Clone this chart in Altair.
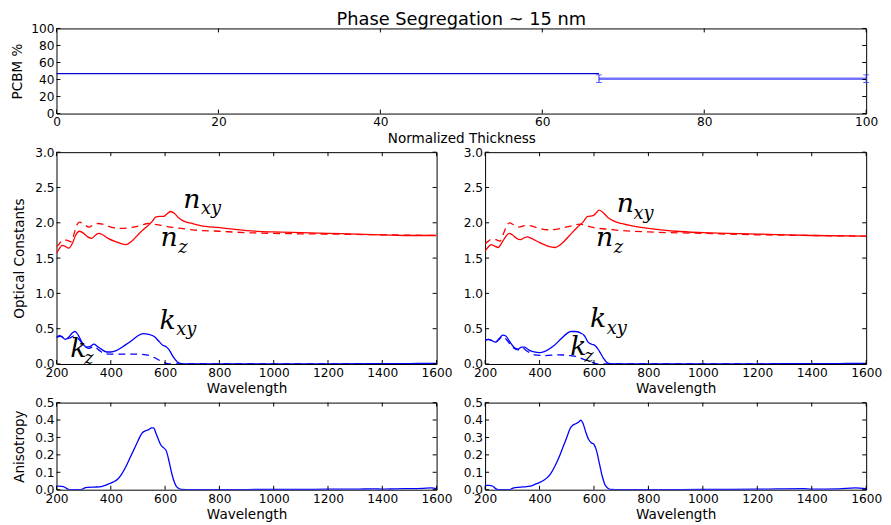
import altair as alt
import pandas as pd

TITLE = ["Phase Segregation ~ 15 nm"]

# ---------------- top panel data ----------------
SEG1_X = [0, 67]
SEG1_Y = [47, 47]
SEG2_X = [67, 100]
SEG2_Y = [41, 41]
ERR_X = [67, 100]
ERR_LO = [36.5, 36.5]
ERR_HI = [45.5, 45.5]
TOP_TICKS = [0, 20, 40, 60, 80, 100]

# ---------------- left panels ----------------
L_NXY_WL = [200, 210, 220, 230, 245, 260, 270, 285, 300, 315, 330, 345, 355, 370, 390, 420, 455, 480, 510, 540, 555, 565, 580, 595, 605, 620, 635, 650, 665, 700, 730, 800, 850, 900, 1000, 1100, 1200, 1300, 1400, 1500, 1600]
L_NXY = [1.57, 1.63, 1.68, 1.67, 1.64, 1.72, 1.82, 1.88, 1.85, 1.80, 1.78, 1.83, 1.85, 1.83, 1.78, 1.73, 1.69, 1.75, 1.87, 1.97, 2.03, 2.08, 2.09, 2.09, 2.12, 2.16, 2.13, 2.07, 2.03, 1.99, 1.96, 1.93, 1.91, 1.89, 1.87, 1.86, 1.85, 1.84, 1.83, 1.82, 1.82]
L_NZ_WL = [200, 210, 225, 240, 255, 265, 275, 285, 300, 320, 340, 355, 370, 400, 430, 470, 510, 537, 560, 590, 620, 660, 700, 800, 900, 1000, 1200, 1400, 1600]
L_NZ = [1.66, 1.70, 1.76, 1.75, 1.73, 1.85, 1.97, 2.01, 1.98, 1.94, 1.98, 1.99, 1.98, 1.94, 1.92, 1.93, 1.96, 1.99, 1.98, 1.96, 1.94, 1.92, 1.90, 1.88, 1.86, 1.85, 1.84, 1.83, 1.82]
L_KXY_WL = [200, 210, 220, 232, 245, 258, 268, 280, 295, 310, 325, 338, 350, 365, 385, 400, 420, 450, 480, 500, 520, 540, 560, 575, 590, 605, 615, 630, 645, 660, 680, 800, 1000, 1200, 1400, 1500, 1560, 1600]
L_KXY = [0.38, 0.40, 0.39, 0.35, 0.38, 0.44, 0.46, 0.41, 0.30, 0.24, 0.25, 0.28, 0.25, 0.21, 0.17, 0.17, 0.19, 0.26, 0.34, 0.40, 0.43, 0.42, 0.39, 0.33, 0.27, 0.24, 0.20, 0.10, 0.03, 0.005, 0.0, 0.0, 0.002, 0.003, 0.005, 0.006, 0.01, 0.008]
L_KZ_WL = [200, 215, 232, 250, 265, 280, 300, 320, 338, 355, 375, 400, 450, 500, 530, 555, 575, 590, 605, 620, 800, 1600]
L_KZ = [0.38, 0.39, 0.35, 0.37, 0.40, 0.36, 0.27, 0.22, 0.25, 0.20, 0.15, 0.14, 0.14, 0.14, 0.13, 0.10, 0.06, 0.03, 0.01, 0.0, 0.0, 0.0]
L_ANI_WL = [200, 210, 225, 240, 250, 290, 300, 315, 340, 365, 380, 395, 410, 425, 440, 455, 470, 485, 500, 515, 530, 540, 550, 558, 565, 575, 585, 595, 605, 615, 625, 635, 645, 660, 700, 800, 900, 1000, 1100, 1200, 1300, 1370, 1400, 1450, 1500, 1550, 1580, 1600]
L_ANI = [0.02, 0.02, 0.018, 0.005, 0.0, 0.0, 0.008, 0.013, 0.015, 0.018, 0.025, 0.035, 0.045, 0.06, 0.09, 0.13, 0.18, 0.23, 0.28, 0.325, 0.34, 0.345, 0.355, 0.355, 0.33, 0.29, 0.255, 0.24, 0.22, 0.16, 0.09, 0.04, 0.012, 0.002, 0.0, 0.0, 0.001, 0.002, 0.002, 0.003, 0.003, 0.005, 0.003, 0.005, 0.006, 0.008, 0.01, 0.006]

# ---------------- right panels ----------------
R_NXY_WL = [200, 210, 222, 235, 248, 262, 275, 288, 300, 315, 330, 345, 355, 370, 400, 430, 458, 480, 510, 540, 560, 577, 597, 608, 619, 632, 650, 670, 700, 750, 800, 900, 1000, 1200, 1400, 1600]
R_NXY = [1.60, 1.65, 1.69, 1.67, 1.65, 1.72, 1.80, 1.85, 1.83, 1.78, 1.76, 1.79, 1.80, 1.78, 1.72, 1.67, 1.65, 1.70, 1.82, 1.94, 2.01, 2.09, 2.10, 2.14, 2.18, 2.15, 2.08, 2.03, 1.99, 1.95, 1.92, 1.88, 1.86, 1.84, 1.82, 1.81]
R_NZ_WL = [200, 212, 225, 240, 255, 268, 280, 290, 305, 325, 345, 360, 400, 440, 480, 520, 550, 570, 600, 650, 700, 800, 1000, 1200, 1400, 1600]
R_NZ = [1.70, 1.74, 1.77, 1.76, 1.74, 1.85, 1.96, 2.00, 1.97, 1.94, 1.96, 1.96, 1.92, 1.90, 1.92, 1.96, 1.98, 1.96, 1.93, 1.91, 1.89, 1.87, 1.85, 1.83, 1.82, 1.81]
R_KXY_WL = [200, 212, 225, 238, 252, 265, 275, 290, 305, 320, 335, 345, 360, 380, 400, 420, 450, 480, 500, 515, 530, 550, 565, 578, 592, 605, 620, 635, 648, 660, 700, 1000, 1200, 1400, 1500, 1560, 1600]
R_KXY = [0.34, 0.35, 0.33, 0.31, 0.36, 0.41, 0.40, 0.32, 0.24, 0.21, 0.24, 0.24, 0.20, 0.17, 0.16, 0.18, 0.25, 0.36, 0.43, 0.46, 0.46, 0.44, 0.40, 0.31, 0.28, 0.26, 0.18, 0.08, 0.02, 0.004, 0.0, 0.002, 0.003, 0.004, 0.005, 0.009, 0.007]
R_KZ_WL = [200, 212, 225, 238, 252, 265, 280, 300, 320, 335, 355, 380, 420, 470, 510, 540, 560, 580, 600, 615, 800, 1600]
R_KZ = [0.33, 0.35, 0.33, 0.31, 0.35, 0.39, 0.34, 0.24, 0.20, 0.23, 0.18, 0.13, 0.12, 0.13, 0.12, 0.10, 0.07, 0.04, 0.015, 0.0, 0.0, 0.0]
R_ANI_WL = [200, 215, 228, 240, 250, 290, 300, 315, 340, 365, 385, 405, 425, 440, 455, 470, 485, 500, 512, 522, 535, 545, 552, 560, 570, 580, 590, 600, 610, 620, 630, 640, 650, 660, 700, 800, 1000, 1200, 1370, 1400, 1500, 1560, 1600]
R_ANI = [0.025, 0.025, 0.02, 0.005, 0.0, 0.0, 0.008, 0.013, 0.016, 0.02, 0.032, 0.045, 0.065, 0.09, 0.13, 0.18, 0.24, 0.30, 0.35, 0.37, 0.38, 0.39, 0.40, 0.38, 0.33, 0.29, 0.27, 0.26, 0.22, 0.15, 0.08, 0.03, 0.01, 0.002, 0.0, 0.0, 0.002, 0.003, 0.006, 0.003, 0.005, 0.01, 0.006]

# ---------------- annotation labels (main letter + subscript) ----------------
LBL_MAIN = ["n", "n", "k", "k"]
LBL_SUB = ["xy", "z", "xy", "z"]
L_MAIN_WL = [667, 583, 579, 251]
L_MAIN_V = [2.215, 1.668, 0.49, 0.098]
L_SUB_WL = [732, 648, 641, 302]
L_SUB_V = [2.13, 1.57, 0.41, 0.0]
R_MAIN_WL = [684, 607, 585, 513]
R_MAIN_V = [2.159, 1.668, 0.519, 0.126]
R_SUB_WL = [745, 673, 647, 564]
R_SUB_V = [2.06, 1.57, 0.42, 0.03]

WL_TICKS = [200, 400, 600, 800, 1000, 1200, 1400, 1600]
OC_TICKS = [0.0, 0.5, 1.0, 1.5, 2.0, 2.5, 3.0]
AN_TICKS = [0.0, 0.1, 0.2, 0.3, 0.4, 0.5]

FONT = "DejaVu Sans"
RED = "#ff0000"
BLUE = "#0000ff"


def make_axes(xticks, yticks, xfmt, yfmt, xtitle, ytitle, h, ytitle_x):
    xa = alt.Axis(values=xticks, format=xfmt, title=xtitle, titleY=18,
                  titleBaseline="top", labelFlush=False, labelOverlap=False)
    if ytitle:
        ya = alt.Axis(values=yticks, format=yfmt, title=ytitle, titleX=ytitle_x,
                      titleY=h / 2, titleBaseline="alphabetic", titleAngle=270,
                      labelFlush=False, labelOverlap=False)
    else:
        ya = alt.Axis(values=yticks, format=yfmt, title=None,
                      labelFlush=False, labelOverlap=False)
    return xa, ya


def tick_layers(xticks, yticks, xs, ys, xa, ya, w, h):
    xt = pd.DataFrame({"wl": xticks})
    yt = pd.DataFrame({"v": yticks})
    base = dict(color="black", strokeWidth=1)
    X = alt.X("wl:Q", scale=xs, axis=xa)
    Y = alt.Y("v:Q", scale=ys, axis=ya)
    return [
        alt.Chart(xt).mark_rule(**base).encode(x=X, y=alt.value(0), y2=alt.value(4)),
        alt.Chart(xt).mark_rule(**base).encode(x=X, y=alt.value(h), y2=alt.value(h - 4)),
        alt.Chart(yt).mark_rule(**base).encode(y=Y, x=alt.value(0), x2=alt.value(4)),
        alt.Chart(yt).mark_rule(**base).encode(y=Y, x=alt.value(w), x2=alt.value(w - 4)),
    ]


def wl_panel(series, labels, yticks, ydom, w, h, ytitle, yfmt):
    xs = alt.Scale(domain=[200, 1600], nice=False, zero=False)
    ys = alt.Scale(domain=ydom, nice=False, zero=False)
    xa, ya = make_axes(WL_TICKS, yticks, "d", yfmt, "Wavelength", ytitle, h, -33)
    X = alt.X("wl:Q", scale=xs, axis=xa)
    Y = alt.Y("v:Q", scale=ys, axis=ya)
    layers = []
    for wl, vals, color, dash in series:
        df = pd.DataFrame({"wl": wl, "v": vals})
        kw = dict(color=color, strokeWidth=1.3, clip=True, interpolate="monotone")
        if dash:
            kw["strokeDash"] = [7, 5]
        layers.append(alt.Chart(df).mark_line(**kw).encode(x=X, y=Y))
    if labels:
        mwl, mv, swl, sv = labels
        dm = pd.DataFrame({"wl": mwl, "v": mv, "t": LBL_MAIN})
        ds = pd.DataFrame({"wl": swl, "v": sv, "t": LBL_SUB})
        layers.append(alt.Chart(dm).mark_text(align="left", baseline="alphabetic",
                      font="DejaVu Serif", fontStyle="italic", fontSize=27,
                      color="black").encode(x=X, y=Y, text="t:N"))
        layers.append(alt.Chart(ds).mark_text(align="left", baseline="alphabetic",
                      font="DejaVu Serif", fontStyle="italic", fontSize=18,
                      color="black").encode(x=X, y=Y, text="t:N"))
    layers += tick_layers(WL_TICKS, yticks, xs, ys, xa, ya, w, h)
    return alt.layer(*layers).properties(width=w, height=h)


# ---------------- top panel ----------------
TOP_W, TOP_H = 818, 86
txs = alt.Scale(domain=[0, 100], nice=False, zero=False)
tys = alt.Scale(domain=[0, 100], nice=False, zero=False)
txa, tya = make_axes(TOP_TICKS, TOP_TICKS, "d", "d", "Normalized Thickness", "PCBM %", TOP_H, -35)
TX = alt.X("wl:Q", scale=txs, axis=txa)
TY = alt.Y("v:Q", scale=tys, axis=tya)
seg1 = alt.Chart(pd.DataFrame({"wl": SEG1_X, "v": SEG1_Y})).mark_line(
    color="#0000cc", strokeWidth=1.2).encode(x=TX, y=TY)
seg2 = alt.Chart(pd.DataFrame({"wl": SEG2_X, "v": SEG2_Y})).mark_line(
    color="#7373ff", strokeWidth=2.6).encode(x=TX, y=TY)
err_df = pd.DataFrame({"wl": ERR_X, "v": ERR_LO, "v2": ERR_HI})
err = alt.Chart(err_df).mark_rule(color="#2a2aff", strokeWidth=1).encode(
    x=TX, y=TY, y2="v2:Q")
cap_lo = alt.Chart(err_df).mark_tick(orient="horizontal", color="#2a2aff", size=6,
                                     thickness=1).encode(x=TX, y=TY)
cap_hi = alt.Chart(err_df).mark_tick(orient="horizontal", color="#2a2aff", size=6,
                                     thickness=1).encode(
    x=TX, y=alt.Y("v2:Q", scale=tys, axis=tya))
title_txt = alt.Chart(pd.DataFrame({"t": TITLE})).mark_text(
    font=FONT, fontSize=18, color="black", align="center", baseline="alphabetic"
).encode(text="t:N", x=alt.value(TOP_W / 2), y=alt.value(-3))
top = alt.layer(seg1, seg2, err, cap_lo, cap_hi, title_txt,
                *tick_layers(TOP_TICKS, TOP_TICKS, txs, tys, txa, tya, TOP_W, TOP_H)
                ).properties(width=TOP_W, height=TOP_H)

mid_left = wl_panel([(L_NXY_WL, L_NXY, RED, False), (L_NZ_WL, L_NZ, RED, True),
                     (L_KXY_WL, L_KXY, BLUE, False), (L_KZ_WL, L_KZ, BLUE, True)],
                    (L_MAIN_WL, L_MAIN_V, L_SUB_WL, L_SUB_V),
                    OC_TICKS, [0, 3], 384, 214, "Optical Constants", ".1f")
mid_right = wl_panel([(R_NXY_WL, R_NXY, RED, False), (R_NZ_WL, R_NZ, RED, True),
                      (R_KXY_WL, R_KXY, BLUE, False), (R_KZ_WL, R_KZ, BLUE, True)],
                     (R_MAIN_WL, R_MAIN_V, R_SUB_WL, R_SUB_V),
                     OC_TICKS, [0, 3], 385, 214, None, ".1f")
bot_left = wl_panel([(L_ANI_WL, L_ANI, BLUE, False)], None,
                    AN_TICKS, [0, 0.5], 384, 88, "Anisotropy", ".1f")
bot_right = wl_panel([(R_ANI_WL, R_ANI, BLUE, False)], None,
                     AN_TICKS, [0, 0.5], 385, 88, None, ".1f")

mid = alt.hconcat(mid_left, mid_right, spacing=49, bounds="flush")
bot = alt.hconcat(bot_left, bot_right, spacing=49, bounds="flush")

chart = alt.vconcat(top, mid, bot, spacing=-1).properties(
    padding={"left": 2, "top": 0, "right": 0, "bottom": 0}
).configure_view(stroke="black", strokeWidth=1).configure_axis(
    labelFont=FONT, labelFontSize=12.3, labelColor="black", labelPadding=2.5,
    titleFont=FONT, titleFontSize=13.7, titleFontWeight="normal", titleColor="black",
    ticks=False, tickSize=0, domain=False, grid=False
)

chart.save("out.html", embed_options={"renderer": "svg", "actions": False})
